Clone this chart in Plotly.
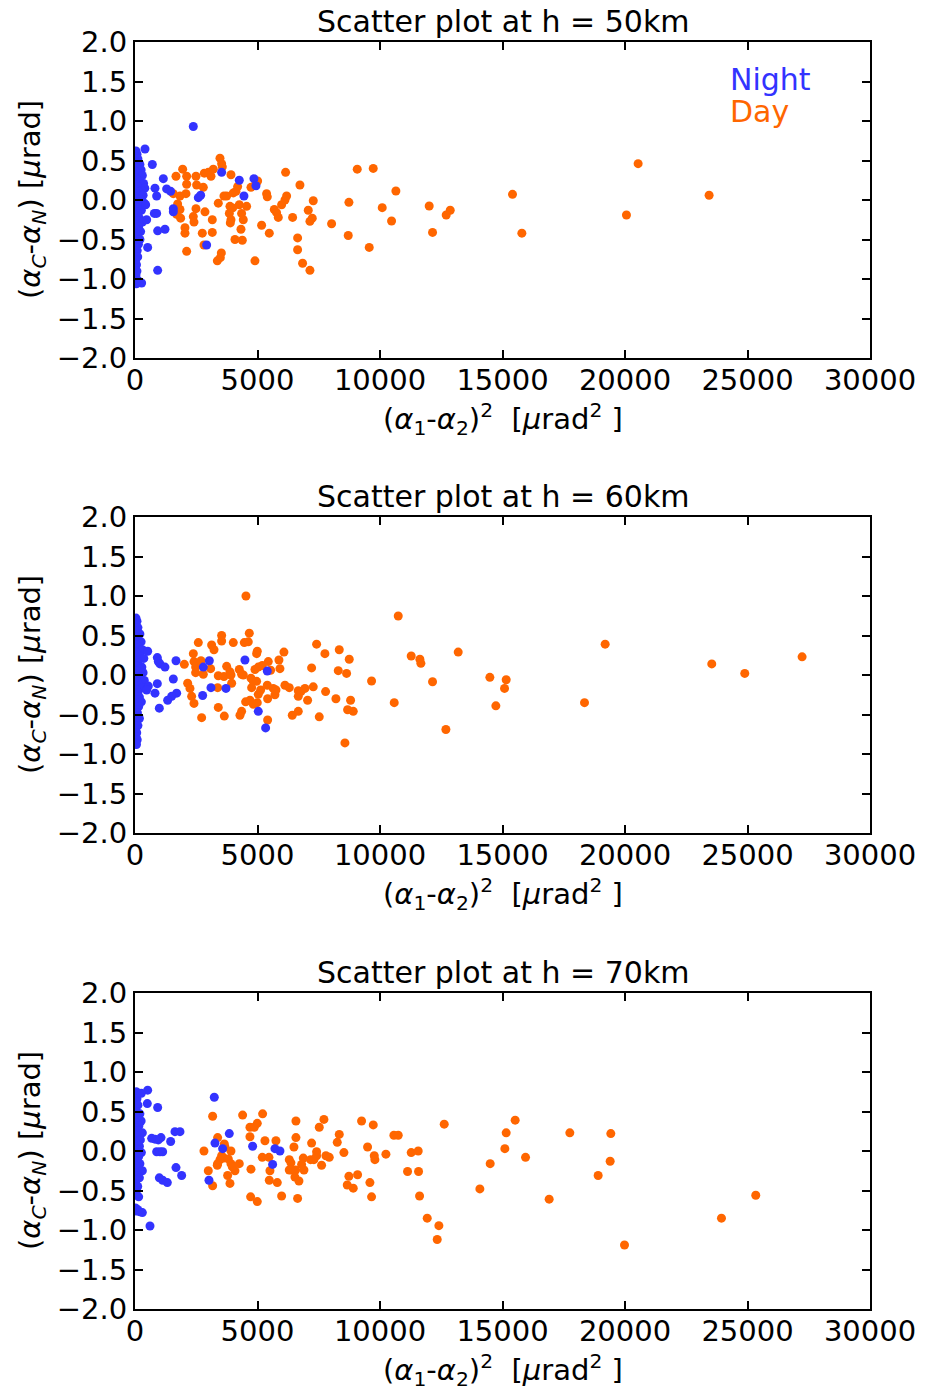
import plotly.graph_objects as go

# ---------------- data ----------------
heights = ["50km", "60km", "70km"]

night50_x = [40, 80, 30, 120, 60, 200, 20, 100, 250, 50, 150, 300, 30, 90, 220, 350, 60, 130, 400, 20,
             280, 180, 80, 330, 40, 140, 240, 60, 380, 100, 30, 200, 260, 70, 120, 30, 180, 80, 300, 20,
             150, 60, 230, 30, 100, 200, 50, 140, 20, 90, 40, 110, 30, 60, 20, 80, 40, 130, 270, 60,
             2380, 408, 707, 1156, 1292, 1455, 816, 884, 3536, 4257, 4855, 4937, 4447, 2584, 2679,
             1564, 1564, 789, 884, 435, 476, 925, 1224, 517, 2924, 925]
night50_y = [0.62, 0.58, 0.55, 0.52, 0.48, 0.45, 0.42, 0.40, 0.38, 0.35, 0.33, 0.31, 0.28, 0.25, 0.23, 0.21,
             0.19, 0.16, 0.15, 0.13, 0.12, 0.10, 0.08, 0.06, 0.04, 0.02, 0.0, -0.02, -0.04, -0.06, -0.08,
             -0.10, -0.13, -0.15, -0.18, -0.20, -0.23, -0.26, -0.28, -0.31, -0.34, -0.37, -0.40, -0.43,
             -0.46, -0.50, -0.53, -0.56, -0.60, -0.64, -0.68, -0.72, -0.76, -0.82, -0.86, -0.90, -0.95,
             -1.02, -1.05, -1.06,
             0.93, 0.645, 0.45, 0.27, 0.14, 0.11, 0.15, 0.05, 0.35, 0.25, 0.27, 0.18, 0.05, 0.03, 0.06,
             -0.11, -0.15, -0.17, -0.17, -0.06, -0.25, -0.39, -0.37, -0.60, -0.57, -0.89]

day50_x = [1673, 1945, 2108, 2108, 2081, 1836, 1564, 1741, 1836, 1700, 1863, 2040, 2040, 2108, 2380, 2408,
           2489, 2516, 2489, 2788, 2829, 2992, 3101, 3196, 2747, 2815, 2856, 3155, 3155, 3468, 3536, 3564,
           3917, 3400, 3631, 3741, 4013, 4121, 4189, 3876, 3985, 3850, 3917, 3890, 4257, 4352, 4420, 4325,
           4380, 4080, 3360, 3483, 3524, 4556, 4733, 4937, 5005, 5168, 5372, 5400, 5481, 4896, 5685, 5780,
           5848, 5984, 6120, 6188, 6147, 6433, 6637, 6637, 6732, 6840, 7140, 7072, 7140, 7235, 7276, 8024,
           8731, 8704, 9071, 9561, 9724, 10649, 10091, 10472, 12008, 12866, 12702, 12145, 15408, 15790,
           20536, 20060, 23433]
day50_y = [0.30, 0.39, 0.30, 0.20, 0.08, 0.05, 0.08, -0.05, -0.12, -0.18, -0.23, -0.35, -0.42, -0.65, -0.21,
           -0.28, 0.30, 0.19, -0.11, 0.16, 0.34, 0.35, 0.30, 0.39, -0.42, -0.57, -0.15, -0.25, -0.41, 0.53,
           0.46, 0.42, 0.32, -0.04, 0.05, 0.05, 0.09, 0.11, 0.17, -0.08, -0.10, -0.17, -0.25, -0.29, -0.06,
           -0.17, -0.25, -0.37, -0.51, -0.50, -0.77, -0.73, -0.67, -0.08, 0.16, 0.22, 0.24, -0.32, 0.08,
           0.04, -0.42, -0.77, -0.12, -0.16, -0.22, -0.06, 0.0, 0.05, 0.35, -0.22, -0.48, -0.63, 0.19,
           -0.80, -0.89, -0.13, -0.27, -0.23, -0.01, -0.30, -0.03, -0.45, 0.39, -0.60, 0.40, 0.114, -0.097,
           -0.266, -0.076, -0.13, -0.19, -0.41, 0.072, -0.42, 0.46, -0.19, 0.06]

night60_x = [40, 80, 30, 120, 60, 200, 20, 100, 250, 50, 160, 300, 30, 90, 220, 360, 60, 130, 20, 280,
             180, 80, 330, 40, 140, 240, 60, 380, 100, 30, 200, 300, 70, 120, 30, 180, 80, 260, 20, 150,
             60, 100, 30, 180, 50, 120, 20, 70, 40, 90, 30, 60,
             517, 911, 952, 1020, 1224, 1673, 1564, 911, 816, 544, 476, 1700, 1496, 1333, 993,
             2788, 3033, 3101, 3713, 2761, 4488, 5399, 5032, 5331]
night60_y = [0.72, 0.68, 0.64, 0.60, 0.56, 0.52, 0.48, 0.45, 0.42, 0.38, 0.35, 0.32, 0.29, 0.26, 0.23, 0.21,
             0.18, 0.15, 0.12, 0.10, 0.08, 0.05, 0.03, 0.01, -0.01, -0.03, -0.05, -0.07, -0.09, -0.11,
             -0.14, -0.16, -0.19, -0.22, -0.25, -0.28, -0.31, -0.34, -0.37, -0.40, -0.44, -0.48, -0.52,
             -0.55, -0.60, -0.64, -0.68, -0.73, -0.78, -0.82, -0.86, -0.88,
             0.30, 0.22, 0.17, 0.14, 0.10, 0.18, -0.05, -0.11, -0.23, -0.14, -0.19, -0.23, -0.27, -0.32,
             -0.42, 0.10, 0.18, -0.16, -0.17, -0.26, 0.19, 0.05, -0.46, -0.67]

day60_x = [4529, 2013, 2149, 2244, 2312, 2408, 2380, 2408, 2475, 2475, 2584, 2693, 2788, 2720, 3087, 3128,
           3224, 3373, 3400, 3632, 3400, 3536, 3536, 3645, 3741, 3877, 3918, 3945, 4012, 4257, 4352, 4420,
           4284, 4352, 4461, 4624, 4665, 4515, 4692, 4828, 4992, 4733, 4828, 4760, 4964, 4896, 5032, 5195,
           5440, 5535, 4991, 4964, 5032, 5127, 5400, 5413, 5413, 5644, 5712, 5753, 5875, 5916, 6079, 6120,
           6297, 6419, 6664, 6664, 6664, 6773, 6936, 7045, 7276, 7208, 7412, 7521, 7752, 7779, 8201, 8337,
           8296, 8636, 8745, 8799, 8677, 8908, 8568, 9656, 10744, 10581, 11274, 11628, 11669, 12145,
           12689, 13192, 14484, 15150, 15083, 14729, 18347, 19190, 23542, 24888, 27228]
day60_y = [1.0, 0.135, -0.105, -0.17, -0.27, -0.36, 0.27, 0.17, 0.10, 0.03, 0.41, 0.18, 0.01, -0.54, 0.08,
           0.38, 0.32, -0.16, -0.01, -0.02, -0.41, 0.50, 0.43, -0.52, 0.11, 0.04, 0.0, -0.105, 0.41, 0.07,
           0.01, 0.0, -0.51, -0.46, 0.41, 0.42, 0.53, -0.34, -0.32, -0.37, -0.35, -0.04, -0.08, -0.16,
           -0.08, 0.07, 0.10, 0.12, 0.17, 0.06, 0.30, 0.27, -0.245, -0.19, -0.13, -0.30, -0.57, -0.17,
           -0.25, -0.19, 0.19, 0.08, 0.29, -0.13, -0.16, -0.51, -0.46, -0.20, -0.27, -0.21, -0.17, -0.32,
           -0.15, 0.09, 0.39, -0.53, 0.27, -0.21, -0.30, 0.32, 0.055, 0.02, 0.20, -0.32, -0.44, -0.46,
           -0.86, -0.076, 0.747, -0.35, 0.24, 0.20, 0.148, -0.085, -0.69, 0.29, -0.03, -0.06, -0.17,
           -0.39, -0.35, 0.39, 0.14, 0.02, 0.23]

night70_x = [50, 30, 80, 40, 120, 20, 60, 200, 30, 100, 250, 50, 160, 20, 90, 300, 40, 130, 220, 20,
             70, 180, 30, 110, 260, 50, 150, 20, 80, 200, 40, 120, 300, 30, 90, 180, 50, 20, 110, 60,
             30, 150, 20, 100, 60, 200, 300,
             517, 258, 503, 925, 1632, 1836, 1455, 1061, 952, 816, 680, 884, 1020, 1129, 1673, 1904,
             993, 1129, 1319, 612, 3236, 3849, 3264, 3577, 3019, 4801, 5712, 5916, 5617]
night70_y = [0.75, 0.70, 0.66, 0.62, 0.58, 0.54, 0.50, 0.47, 0.44, 0.41, 0.38, 0.35, 0.32, 0.29, 0.26, 0.23,
             0.20, 0.17, 0.14, 0.11, 0.08, 0.06, 0.03, 0.01, -0.02, -0.04, -0.07, -0.10, -0.13, -0.16,
             -0.19, -0.22, -0.25, -0.28, -0.31, -0.34, -0.37, -0.41, -0.45, -0.50, -0.55, -0.58, -0.72,
             -0.74, -0.76, -0.77, -0.78,
             0.77, 0.73, 0.60, 0.55, 0.245, 0.245, 0.12, 0.17, 0.14, 0.15, 0.16, -0.01, -0.01, -0.01,
             -0.21, -0.31, -0.34, -0.37, -0.40, -0.95, 0.68, 0.22, 0.10, 0.03, -0.37, 0.06, 0.03, 0.0, -0.17]

day70_x = [2815, 3169, 3373, 3645, 3672, 3917, 3536, 3631, 3468, 3373, 3359, 3808, 3917, 3971, 4080, 4257,
           2992, 3169, 3781, 3876, 4393, 4692, 4869, 4991, 5209, 4692, 5304, 5195, 5467, 5753, 4733, 5508,
           5481, 5807, 4719, 4991, 5984, 6569, 6569, 6487, 6297, 6365, 6297, 6392, 6555, 6528, 6691, 6637,
           6868, 6800, 6895, 7208, 7167, 7303, 7412, 7412, 7616, 7793, 7929, 7521, 7711, 8255, 8337, 8527,
           8731, 8663, 8908, 9085, 9248, 9493, 9588, 9656, 9724, 9765, 9792, 10567, 10744, 10241, 11274,
           11560, 11125, 11574, 11615, 12621, 11927, 12403, 12335, 14076, 14497, 15096, 15150, 15517,
           15940, 16905, 17748, 18904, 19421, 19394, 19979, 23937, 25337]
day70_y = [0.0, 0.44, 0.17, 0.09, 0.05, 0.0, -0.06, -0.09, -0.11, -0.16, -0.18, -0.10, -0.16, -0.20, -0.25,
           -0.16, -0.25, -0.44, -0.31, -0.41, 0.455, 0.30, 0.30, 0.35, 0.47, 0.18, 0.13, -0.08, -0.08, 0.13,
           -0.23, -0.25, -0.37, -0.40, -0.58, -0.64, -0.57, 0.38, 0.17, 0.05, -0.11, -0.15, -0.24, -0.24,
           -0.24, -0.33, -0.38, -0.60, -0.09, -0.17, -0.24, 0.10, -0.11, -0.11, -0.01, -0.06, -0.18, -0.06,
           -0.08, 0.30, 0.40, 0.11, 0.21, -0.02, -0.32, -0.43, -0.47, -0.30, 0.38, 0.05, -0.40, -0.58,
           0.33, -0.06, -0.11, 0.20, 0.20, -0.04, -0.02, 0.0, -0.26, -0.26, -0.57, 0.34, -0.85, -0.945,
           -1.12, -0.48, -0.16, 0.03, 0.23, 0.39, -0.08, -0.61, 0.23, -0.31, 0.22, -0.13, -1.19, -0.85, -0.56]

x_ticks = [0, 5000, 10000, 15000, 20000, 25000, 30000]
y_ticks = [-2.0, -1.5, -1.0, -0.5, 0.0, 0.5, 1.0, 1.5, 2.0]

night_sets = [(night50_x, night50_y), (night60_x, night60_y), (night70_x, night70_y)]
day_sets = [(day50_x, day50_y), (day60_x, day60_y), (day70_x, day70_y)]

# ---------------- layout ----------------
W, H = 925, 1391
BLUE = "#3333ff"
ORANGE = "#ff6600"
FONT = "DejaVu Sans"

def px(x):
    return x / W

def py(y):
    return 1 - y / H

plot_left, plot_right = 135, 870
panel_tops = [42, 517, 993]
panel_h = 316

fig = go.Figure()
annotations = []
for i in range(3):
    n = "" if i == 0 else str(i + 1)
    xa, ya = "x" + n, "y" + n
    dx, dy = day_sets[i]
    nx, ny = night_sets[i]
    fig.add_trace(go.Scatter(x=dx, y=dy, mode="markers", xaxis=xa, yaxis=ya,
                             marker=dict(color=ORANGE, size=9, line=dict(width=0)),
                             showlegend=False, name="Day"))
    fig.add_trace(go.Scatter(x=nx, y=ny, mode="markers", xaxis=xa, yaxis=ya,
                             marker=dict(color=BLUE, size=9, line=dict(width=0)),
                             showlegend=False, name="Night"))
    top = panel_tops[i]
    bot = top + panel_h
    common = dict(showline=True, linecolor="black", linewidth=2, mirror="ticks",
                  ticks="inside", ticklen=8, tickwidth=1.5, tickcolor="black",
                  showgrid=False, zeroline=False, automargin=False,
                  tickfont=dict(family=FONT, size=29, color="black"))
    fig.layout["xaxis" + n] = dict(domain=[px(plot_left), px(plot_right)], anchor=ya,
                                   range=[0, 30000], tickvals=x_ticks, tickformat="d",
                                   ticklabelstandoff=-5, **common)
    fig.layout["yaxis" + n] = dict(domain=[py(bot), py(top)], anchor=xa,
                                   range=[-2, 2], tickvals=y_ticks, tickformat=".1f",
                                   **common)
    cx = (plot_left + plot_right) / 2
    annotations.append(dict(x=px(cx), y=py(top - 21), xref="paper", yref="paper",
                            text="Scatter plot at h = " + heights[i], showarrow=False,
                            xanchor="center", yanchor="middle",
                            font=dict(family=FONT, size=30, color="black")))
    annotations.append(dict(x=px(cx), y=py(bot + 61), xref="paper", yref="paper",
                            text="(<i>α</i><sub>1</sub>-<i>α</i><sub>2</sub>)<sup>2</sup>  [<i>μ</i>rad<sup>2</sup> ]",
                            showarrow=False, xanchor="center", yanchor="middle",
                            font=dict(family=FONT, size=29, color="black")))
    annotations.append(dict(x=px(32), y=py(top + panel_h / 2), xref="paper", yref="paper",
                            text="(<i>α</i><sub><i>C</i></sub>-<i>α</i><sub><i>N</i></sub>) [<i>μ</i>rad]",
                            showarrow=False, xanchor="center", yanchor="middle", textangle=-90,
                            font=dict(family=FONT, size=29, color="black")))

annotations.append(dict(x=px(728), y=py(79), xref="paper", yref="paper", text="Night",
                        showarrow=False, xanchor="left", yanchor="middle",
                        font=dict(family=FONT, size=30, color=BLUE)))
annotations.append(dict(x=px(728), y=py(111), xref="paper", yref="paper", text="Day",
                        showarrow=False, xanchor="left", yanchor="middle",
                        font=dict(family=FONT, size=30, color=ORANGE)))

fig.update_layout(width=W, height=H, margin=dict(l=0, r=0, t=0, b=0, autoexpand=False),
                  paper_bgcolor="white", plot_bgcolor="white",
                  annotations=annotations, showlegend=False)

fig.write_html("out.html")
